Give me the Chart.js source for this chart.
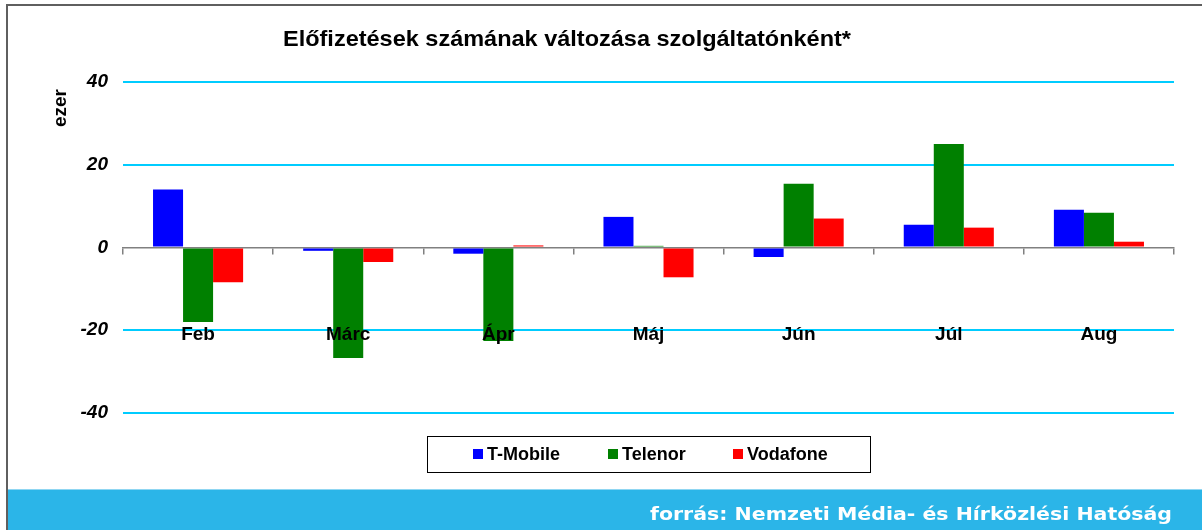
<!DOCTYPE html>
<html>
<head>
<meta charset="utf-8">
<script src="https://cdn.jsdelivr.net/npm/chart.js@4.4.1/dist/chart.umd.min.js"></script>
<style>
  html, body { margin: 0; padding: 0; background: #fff; }
  #wrap { width: 1202px; height: 530px; }
</style>
</head>
<body>
<div id="wrap"><canvas id="chart" width="1202" height="530"></canvas></div>
<script>
const months = ['Feb', 'Márc', 'Ápr', 'Máj', 'Jún', 'Júl', 'Aug'];
const tmobile = [14.0, -0.8, -1.5, 7.4, -2.3, 5.5, 9.1];
const telenor = [-18.0, -26.7, -22.6, 0.4, 15.4, 25.0, 8.4];
const vodafone = [-8.4, -3.5, 0.5, -7.2, 7.0, 4.8, 1.4];
const yTicks = [40, 20, 0, -20, -40];

const titleText = 'Előfizetések számának változása szolgáltatónként*';
const unitText = 'ezer';
const sourceText = 'forrás: Nemzeti Média- és Hírközlési Hatóság';

const arial = '"Liberation Sans", Arial, sans-serif';

// draws text starting at x, squeezed/stretched to the given width
function fitText(ctx, text, x, y, width) {
  const w = ctx.measureText(text).width;
  ctx.save();
  ctx.translate(x, y);
  ctx.scale(width / w, 1);
  ctx.fillText(text, 0, 0);
  ctx.restore();
}

// frame, blue footer band, title, unit label and boxed legend
const decor = {
  id: 'decor',
  beforeDraw(chart) {
    const ctx = chart.ctx;
    ctx.save();
    ctx.fillStyle = '#fff';
    ctx.fillRect(0, 0, chart.width, chart.height);
    // footer band
    ctx.fillStyle = '#2bb5e8';
    ctx.fillRect(8, 490, chart.width - 8, chart.height - 490);
    ctx.fillStyle = '#8fd6f2';
    ctx.fillRect(8, 489, chart.width - 8, 1);
    // frame
    ctx.fillStyle = '#5f5f5f';
    ctx.fillRect(6, 4, chart.width - 6, 2);
    ctx.fillRect(6, 4, 2, chart.height - 4);
    // source text
    ctx.font = 'bold 17px "DejaVu Sans", sans-serif';
    ctx.fillStyle = '#fff';
    ctx.strokeStyle = '#fff';
    ctx.textBaseline = 'alphabetic';
    fitText(ctx, sourceText, 650, 520, 522);
    ctx.restore();
  },
  afterDraw(chart) {
    const ctx = chart.ctx;
    ctx.save();
    ctx.fillStyle = '#000';
    ctx.font = 'bold 22px ' + arial;
    ctx.textAlign = 'left';
    ctx.textBaseline = 'middle';
    fitText(ctx, titleText, 283, 40, 568);

    ctx.save();
    ctx.translate(61, 108);
    ctx.rotate(-Math.PI / 2);
    ctx.font = 'bold 19px ' + arial;
    ctx.textAlign = 'center';
    ctx.fillText(unitText, 0, 0);
    ctx.restore();

    // legend box
    ctx.strokeStyle = '#000';
    ctx.lineWidth = 1;
    ctx.strokeRect(427.5, 436.5, 443, 36);
    const starts = [473, 608, 733];
    ctx.font = 'bold 18px ' + arial;
    ctx.textAlign = 'left';
    chart.data.datasets.forEach((ds, i) => {
      ctx.fillStyle = ds.backgroundColor;
      ctx.fillRect(starts[i], 449, 10, 10);
      ctx.fillStyle = '#000';
      ctx.fillText(ds.label, starts[i] + 14, 455);
    });
    ctx.restore();
  }
};

new Chart(document.getElementById('chart'), {
  type: 'bar',
  data: {
    labels: months,
    datasets: [
      { label: 'T-Mobile', data: tmobile, backgroundColor: '#0000ff' },
      { label: 'Telenor', data: telenor, backgroundColor: '#008000' },
      { label: 'Vodafone', data: vodafone, backgroundColor: '#ff0000' },
    ],
  },
  plugins: [decor],
  options: {
    responsive: false,
    animation: false,
    devicePixelRatio: 1,
    layout: { padding: { left: 63, right: 28, top: 82, bottom: 117 } },
    datasets: { bar: { categoryPercentage: 0.6, barPercentage: 1.0 } },
    plugins: {
      legend: { display: false },
      title: { display: false },
      tooltip: { enabled: false },
    },
    scales: {
      x: {
        position: { y: 0 },
        border: { display: true, color: '#808080', width: 1.5 },
        grid: { drawOnChartArea: false, drawTicks: true, tickLength: 6, color: '#808080', lineWidth: 1.5, offset: true },
        ticks: {
          z: 1,
          padding: 70,
          color: '#000',
          maxRotation: 0,
          font: { family: arial, size: 19, weight: 'bold' },
        },
      },
      y: {
        min: -40,
        max: 40,
        afterFit(scale) { scale.width = 60; },
        afterBuildTicks(scale) { scale.ticks = yTicks.map(v => ({ value: v })); },
        border: { display: false },
        grid: {
          drawTicks: false,
          lineWidth: 2,
          color: (c) => (c.tick && c.tick.value === 0 ? 'rgba(0,0,0,0)' : '#00ccff'),
        },
        ticks: {
          padding: 15,
          color: '#000',
          font: { family: arial, size: 19, weight: 'bold', style: 'italic' },
        },
      },
    },
  },
});
</script>
</body>
</html>
